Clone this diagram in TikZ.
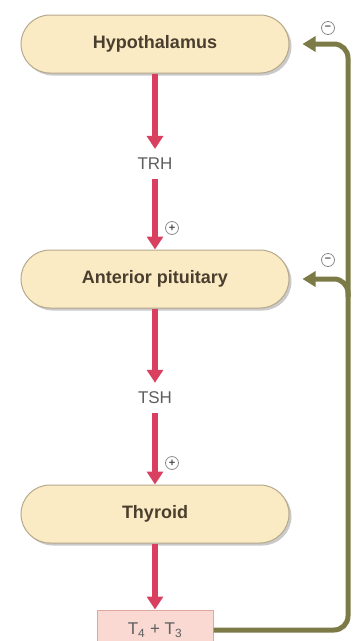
\documentclass[tikz,border=0pt]{standalone}
\usepackage{fontspec}
\setmainfont{Liberation Sans}
\usetikzlibrary{arrows.meta,shadows}
\definecolor{boxfill}{HTML}{FBEBC4}
\definecolor{boxline}{HTML}{B5A88C}
\definecolor{boxtext}{HTML}{4A3F2E}
\definecolor{redarr}{HTML}{D9405F}
\definecolor{fbgreen}{HTML}{7C7B47}
\definecolor{labgray}{HTML}{5E5E5E}
\definecolor{tfill}{HTML}{F9D9D1}
\definecolor{tline}{HTML}{DDA8A0}
\tikzset{
  organ/.style={draw=boxline, line width=1pt, fill=boxfill, rounded corners=29pt,
    minimum width=268pt, minimum height=58pt, inner sep=0pt,
    font=\fontsize{18}{20}\selectfont\bfseries, text=boxtext,
    drop shadow={shadow xshift=2.5pt, shadow yshift=-2.5pt, fill=black!35, opacity=0.6}},
  hormone/.style={inner sep=0pt, font=\fontsize{17}{19}\selectfont, text=labgray},
  prod/.style={draw=tline, line width=1pt, fill=tfill, minimum width=116pt, minimum height=40pt,
    inner sep=0pt, font=\fontsize{17}{19}\selectfont, text=labgray},
  stim/.style={draw=redarr, line width=6pt, -{Triangle[width=16pt,length=13pt]}},
  fb/.style={draw=fbgreen, line width=5pt, rounded corners=14pt, -{Triangle[width=15pt,length=13pt]}},
  sign/.style={circle, draw=black!45, line width=0.8pt, fill=white, minimum size=13pt, inner sep=0pt,
    font=\fontsize{11}{11}\selectfont\bfseries, text=black!70}
}
\begin{document}
\begin{tikzpicture}[x=1pt,y=-1pt]
\useasboundingbox (0,0) rectangle (354,641);
\node[organ] (hyp) at (155,44) {Hypothalamus};
\node[organ] (pit) at (155,279) {Anterior pituitary};
\node[organ] (thy) at (155,514) {Thyroid};
\node[prod] (t43) at (155,630) {T\textsubscript{4} + T\textsubscript{3}};
\node[hormone] (trh) at (155,164) {TRH};
\node[hormone] (tsh) at (155,398) {TSH};
\node[sign] (p1) at (172,228) {+};
\node[sign] (p2) at (172,463) {+};
\node[sign] (m1) at (328,28) {\raisebox{0.3pt}{--}};
\node[sign] (m2) at (328,260) {\raisebox{0.3pt}{--}};
\coordinate (rc) at (348,0);
\draw[stim] (hyp.south) -- ([yshift=9pt]trh.north);
\draw[stim] ([yshift=-9pt]trh.south) -- (pit.north);
\draw[stim] (pit.south) -- ([yshift=9pt]tsh.north);
\draw[stim] ([yshift=-9pt]tsh.south) -- (thy.north);
\draw[stim] (thy.south) -- (t43.north);
\draw[fb] (t43.east) -| (rc |- hyp.east) -- ([xshift=13pt]hyp.east);
\draw[fb] ([yshift=-18pt]rc |- pit.east) |- ([xshift=13pt]pit.east);
\end{tikzpicture}
\end{document}
